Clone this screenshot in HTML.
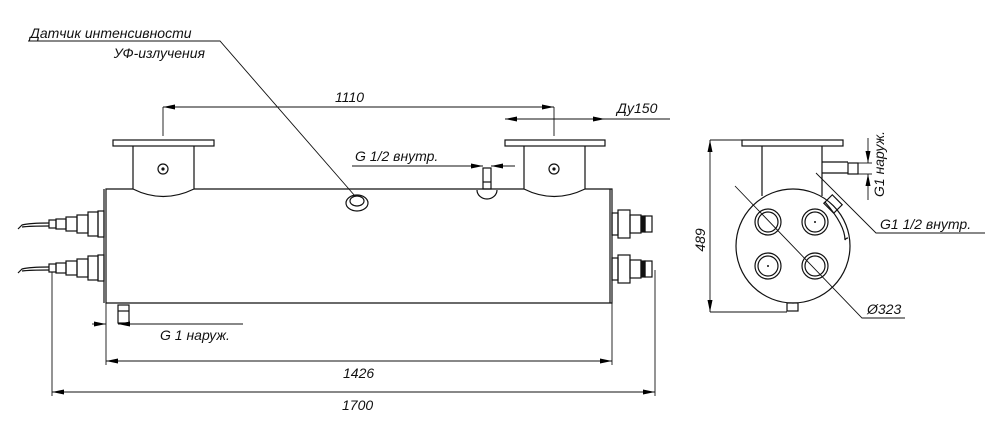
<!DOCTYPE html>
<html><head><meta charset="utf-8"><style>
html,body{margin:0;padding:0;background:#fff;}
svg{display:block;}
text{font-family:"Liberation Sans","DejaVu Sans",sans-serif;font-style:italic;fill:#111;}
</style></head><body>
<svg width="1000" height="435" viewBox="0 0 1000 435" xmlns="http://www.w3.org/2000/svg">
<defs>
<marker id="a" viewBox="0 0 12 5" refX="12" refY="2.5" markerWidth="13" markerHeight="5" orient="auto-start-reverse" markerUnits="userSpaceOnUse"><path d="M0,0 L12,2.5 L0,5z" fill="#000"/></marker>
</defs>
<g stroke="#111" stroke-width="1.2" fill="none">
<rect x="113" y="140" width="101" height="6"/>
<path d="M133,146 V189 Q163,204 194,189 V146"/>
<circle cx="163" cy="169" r="5"/><circle cx="163" cy="169" r="1" fill="#111"/>
<rect x="505" y="140" width="100" height="6"/>
<path d="M524,146 V189 Q554,204 585,189 V146"/>
<circle cx="554" cy="169" r="5"/><circle cx="554" cy="169" r="1" fill="#111"/>
<path d="M585,189 H612 V303 H106 V189 H133"/>
<path d="M194,189 H524"/>
<line x1="104" y1="189" x2="104" y2="303"/>
<line x1="610" y1="189" x2="610" y2="303"/>
<ellipse cx="357" cy="203" rx="11" ry="8"/>
<ellipse cx="357" cy="201" rx="7" ry="5"/>
<path d="M477,190 A10,9 0 0 0 497,190"/>
<rect x="483" y="168" width="8" height="21"/>
<line x1="483" y1="182" x2="491" y2="182"/>
<rect x="118" y="305" width="11" height="18"/>
<line x1="118" y1="311" x2="129" y2="311"/>
<g id="lc">
<rect x="98" y="211" width="6" height="26"/>
<rect x="88" y="212" width="10" height="24"/>
<rect x="77" y="215" width="11" height="18"/>
<rect x="66" y="217" width="11" height="14"/>
<rect x="56" y="219" width="10" height="10"/>
<rect x="49" y="220" width="7" height="8"/>
<path d="M49,223 C40,223 30,223 22,225 L18,229 M49,226 C40,226 30,226 22,227"/>
</g>
<use href="#lc" transform="translate(0,44)"/>
<g id="rc">
<rect x="612" y="213" width="6" height="22"/>
<rect x="618" y="210" width="12" height="28"/>
<rect x="630" y="215" width="11" height="18"/>
<rect x="641" y="216" width="4" height="16" fill="#111"/>
<rect x="645" y="216" width="7" height="16"/>
</g>
<use href="#rc" transform="translate(0,45)"/>
</g>
<g stroke="#111" stroke-width="0.9" fill="none">
<polyline points="28,41 220,41 355,196"/>
<line x1="163" y1="107" x2="163" y2="136"/>
<line x1="554" y1="107" x2="554" y2="136"/>
<line x1="163" y1="107" x2="554" y2="107" marker-start="url(#a)" marker-end="url(#a)"/>
<line x1="505" y1="119" x2="605" y2="119" marker-start="url(#a)" marker-end="url(#a)"/>
<line x1="605" y1="119" x2="670" y2="119"/>
<line x1="352" y1="166" x2="483" y2="166" marker-end="url(#a)"/>
<line x1="491" y1="166" x2="515" y2="166" marker-start="url(#a)"/>
<line x1="92" y1="324" x2="106" y2="324" marker-end="url(#a)"/>
<line x1="118" y1="324" x2="243" y2="324" marker-start="url(#a)"/>
<line x1="106" y1="303" x2="106" y2="365"/>
<line x1="612" y1="303" x2="612" y2="365"/>
<line x1="106" y1="361" x2="612" y2="361" marker-start="url(#a)" marker-end="url(#a)"/>
<line x1="52" y1="272" x2="52" y2="396"/>
<line x1="655" y1="270" x2="655" y2="396"/>
<line x1="52" y1="392" x2="655" y2="392" marker-start="url(#a)" marker-end="url(#a)"/>
</g>
<g stroke="#111" stroke-width="1.2" fill="none">
<rect x="742" y="140" width="101" height="6"/>
<path d="M762,146 V196 M822,146 V196"/>
<circle cx="793" cy="246" r="57"/>
<circle cx="768" cy="222" r="13"/><circle cx="768" cy="222" r="10"/>
<circle cx="815" cy="222" r="13"/><circle cx="815" cy="222" r="10"/>
<circle cx="768" cy="266" r="13"/><circle cx="768" cy="266" r="10"/>
<circle cx="815" cy="266" r="13"/><circle cx="815" cy="266" r="10"/>
<rect x="787" y="303" width="11" height="8"/>
<path d="M822,162 H848 M822,173 H848"/>
<rect x="848" y="163" width="10" height="11"/>
<g transform="rotate(45 833 204)"><rect x="826" y="198" width="14" height="12"/></g>
<path d="M825,202 Q845,225 845,240 Q846,238 848,238"/>
</g>
<g fill="#111"><circle cx="815" cy="222" r="1"/><circle cx="768" cy="266" r="1"/></g>
<g stroke="#111" stroke-width="0.9" fill="none">
<line x1="710" y1="140" x2="742" y2="140"/>
<line x1="710" y1="312" x2="787" y2="312"/>
<line x1="710" y1="140" x2="710" y2="312" marker-start="url(#a)" marker-end="url(#a)"/>
<polyline points="735,186 862,318 905,318"/>
<polyline points="816,173 876,233 985,233"/>
<line x1="868" y1="138" x2="868" y2="163" marker-end="url(#a)"/>
<line x1="868" y1="174" x2="868" y2="200" marker-start="url(#a)"/>
<line x1="858" y1="163" x2="872" y2="163"/>
<line x1="858" y1="174" x2="872" y2="174"/>
</g>
<g font-size="14">
<text x="30" y="38">Датчик интенсивности</text>
<text x="205" y="58" text-anchor="end">УФ-излучения</text>
<text x="335" y="102">1110</text>
<text x="617" y="113">Ду150</text>
<text x="355" y="161">G 1/2 внутр.</text>
<text x="160" y="340">G 1 наруж.</text>
<text x="343" y="378">1426</text>
<text x="342" y="410">1700</text>
<text x="880" y="229">G1 1/2 внутр.</text>
<text x="867" y="314">Ø323</text>
<text transform="translate(705,240) rotate(-90)" text-anchor="middle">489</text>
<text transform="translate(884,197) rotate(-90)">G1 наруж.</text>
</g>
</svg>
</body></html>
